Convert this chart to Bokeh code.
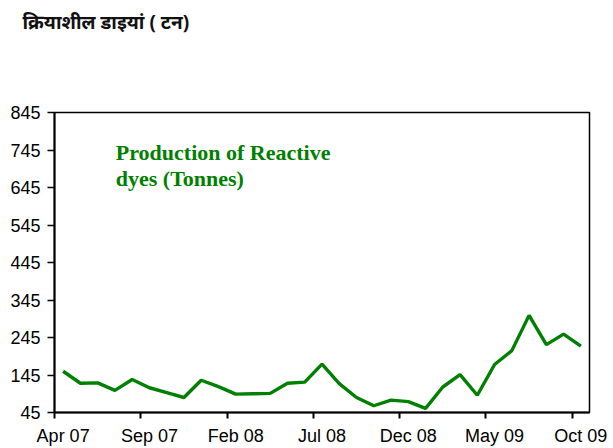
from bokeh.plotting import figure
from bokeh.models import Range1d, FixedTicker, Label, LinearAxis
from bokeh.embed import file_html
from bokeh.resources import INLINE

months = ["Apr 07", "May 07", "Jun 07", "Jul 07", "Aug 07", "Sep 07", "Oct 07", "Nov 07",
          "Dec 07", "Jan 08", "Feb 08", "Mar 08", "Apr 08", "May 08", "Jun 08", "Jul 08",
          "Aug 08", "Sep 08", "Oct 08", "Nov 08", "Dec 08", "Jan 09", "Feb 09", "Mar 09",
          "Apr 09", "May 09", "Jun 09", "Jul 09", "Aug 09", "Sep 09", "Oct 09"]
production = [155, 123, 124, 104, 133, 111, 98, 85, 131, 114, 94, 95, 96, 123, 126, 174,
              122, 85, 63, 78, 74, 56, 113, 146, 91, 173, 210, 304, 226, 254, 222]
shown_months = ["Apr 07", "Sep 07", "Feb 08", "Jul 08", "Dec 08", "May 09", "Oct 09"]
y_ticks = [45, 145, 245, 345, 445, 545, 645, 745, 845]
title_text = "क्रियाशील डाइयां ( टन)"
note_lines = ["Production of Reactive", "dyes (Tonnes)"]

x = list(range(len(months)))
label_pos = [months.index(m) for m in shown_months]

p = figure(width=610, height=448, output_backend="svg", toolbar_location=None,
           x_range=Range1d(-0.5, len(months) - 0.5), y_range=Range1d(45, 845),
           min_border_left=54, min_border_right=21, min_border_top=112, min_border_bottom=35,
           title=title_text)
p.title.text_font = "Noto Sans"
p.title.text_font_style = "bold"
p.title.text_font_size = "19px"
p.title.text_color = "#111111"
p.title.align = "left"
p.title.offset = -32
p.title.vertical_align = "bottom"
p.title.standoff = 0

xa = p.below[0]
ya = p.left[0]

# invisible spacer between title and plot frame
spacer = LinearAxis(ticker=FixedTicker(ticks=[0], minor_ticks=[]), axis_line_color=None,
                    major_tick_line_color=None, minor_tick_line_color=None,
                    major_tick_out=78, major_tick_in=0, minor_tick_out=0, minor_tick_in=0,
                    major_label_standoff=0, major_label_overrides={0: ""},
                    major_label_text_font_size="1px")
p.add_layout(spacer, "above")

p.xgrid.visible = False
p.ygrid.visible = False
p.outline_line_color = "black"
p.outline_line_width = 1.5
p.background_fill_color = "white"
p.border_fill_color = "white"

p.line(x, production, line_color="#008000", line_width=3.4)

xa.ticker = FixedTicker(ticks=label_pos, minor_ticks=[i - 0.5 for i in label_pos])
xa.major_label_overrides = {i: months[i] for i in label_pos}
xa.major_tick_out = 0
xa.major_tick_in = 0
xa.minor_tick_out = 6
xa.minor_tick_in = 0
xa.minor_tick_line_color = "black"
xa.minor_tick_line_width = 2
xa.major_label_standoff = 7

ya.ticker = FixedTicker(ticks=y_ticks, minor_ticks=[])
ya.major_tick_out = 7
ya.major_tick_in = 0
ya.major_tick_line_width = 1.5
ya.major_label_standoff = 7

for ax in (xa, ya):
    ax.axis_line_color = "black"
    ax.axis_line_width = 2
    ax.major_label_text_font = "Liberation Sans"
    ax.major_label_text_font_size = "18px"
    ax.major_label_text_color = "black"

for line, yv in zip(note_lines, [738, 669]):
    p.add_layout(Label(x=3.05, y=yv, text=line, text_font="Liberation Serif",
                       text_font_style="bold", text_font_size="22px", text_color="#008000",
                       text_baseline="alphabetic", text_align="left"))

open("out.html", "w").write(file_html(p, INLINE))
